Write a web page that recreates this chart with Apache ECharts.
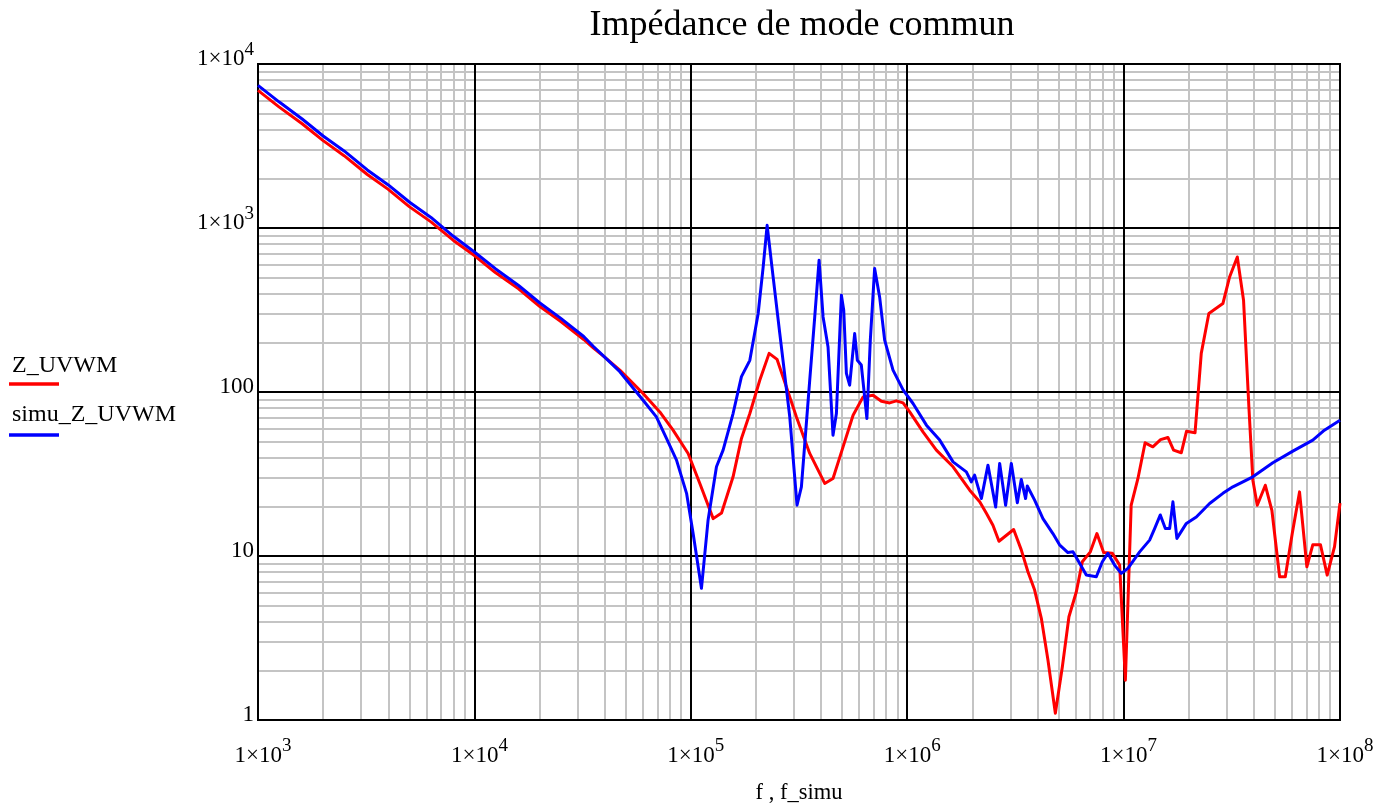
<!DOCTYPE html>
<html>
<head>
<meta charset="utf-8">
<title>Impédance de mode commun</title>
<script src="https://cdn.jsdelivr.net/npm/echarts@6/dist/echarts.min.js"></script>
<style>
  html, body { margin: 0; padding: 0; background: #ffffff; }
  #chart { width: 1378px; height: 810px; }
</style>
</head>
<body>
<div id="chart"></div>
<script>
// Measured common-mode impedance Z_UVWM (Ohm) versus frequency f (Hz)
const freqMeas = [1000, 1250, 1600, 2000, 2500, 3200, 4000, 5000, 6300, 8000,
  10000, 12500, 16000, 20000, 25000, 32000, 35400, 40000, 47000, 60200,
  71900, 82800, 97200, 110100, 126900, 138700, 156800, 171400, 187400, 208300,
  230100, 250500, 276800, 307700, 354500, 415800, 454100, 505400, 562200, 625400,
  695700, 760000, 830000, 891000, 957000, 1027000, 1183000, 1364000, 1629000, 1945000,
  2163000, 2322000, 2490000, 2655000, 3104000, 3366000, 3613000, 3880000, 4167000, 4471000,
  4837000, 5212000, 5590000, 6049000, 6446000, 7020000, 7528000, 8088000, 8871000, 9589000,
  10190000, 10840000, 11650000, 12570000, 13650000, 14820000, 16020000, 17020000, 18470000, 19540000,
  21390000, 22850000, 24770000, 28760000, 30890000, 33530000, 35830000, 37930000, 39560000, 41460000,
  45180000, 48440000, 52600000, 55870000, 60160000, 65010000, 70290000, 74850000, 81250000, 87260000,
  94350000, 100000000];
const zMeas = [6900, 5480, 4320, 3410, 2760, 2120, 1720, 1350, 1090, 840,
  680, 535, 426, 333, 270, 209, 186, 163, 136, 97.9,
  75.6, 58.5, 42.2, 27.7, 16.9, 18.3, 30.4, 52.1, 73.9, 118,
  172, 158, 107, 70.5, 42.2, 27.7, 29.7, 46.3, 72.2, 93.4,
  95.6, 87.9, 85.8, 88.3, 85.8, 75.6, 57.1, 44.2, 35.0, 25.2,
  21.4, 18.2, 15.4, 12.3, 14.5, 10.9, 8.01, 6.20, 4.17, 2.32,
  1.10, 2.11, 4.26, 6.05, 9.22, 10.6, 13.7, 10.5, 10.4, 8.80,
  1.75, 20.4, 29.7, 49.0, 46.3, 51.2, 52.8, 44.2, 42.6, 57.7,
  56.5, 172, 301, 346, 503, 666, 363, 81.2, 29.0, 20.4,
  27.0, 19.0, 7.47, 7.47, 13.7, 24.6, 8.60, 11.7, 11.7, 7.65,
  11.4, 21];

// Simulated common-mode impedance simu_Z_UVWM (Ohm) versus frequency f_simu (Hz)
const freqSimu = [1000, 1250, 1600, 2000, 2500, 3200, 4000, 5000, 6300, 8000,
  10000, 12500, 16000, 20000, 25000, 32000, 35400, 40000, 47000, 60200,
  69330, 77200, 85900, 95600, 102500, 112000, 120200, 131400, 141000, 156800,
  171400, 187400, 204800, 216000, 225300, 240100, 257800, 286600, 309600, 324400,
  354500, 373900, 391600, 408600, 430700, 454100, 470800, 496500, 509000, 523600,
  542100, 571800, 588400, 613700, 651300, 675400, 707100, 745700, 786700, 859900,
  957000, 1064000, 1227000, 1413000, 1629000, 1876000, 1978000, 2049000, 2202000, 2362000,
  2563000, 2675000, 2850000, 3028000, 3228000, 3366000, 3524000, 3589000, 3880000, 4239000,
  4713000, 5058000, 5528000, 5835000, 6262000, 6725000, 7481000, 7975000, 8460000, 9085000,
  9755000, 10470000, 11860000, 13190000, 13910000, 14780000, 15590000, 16320000, 16900000, 17630000,
  19500000, 21680000, 24970000, 28760000, 31990000, 39560000, 48940000, 60560000, 74850000, 84720000,
  100000000];
const zSimu = [7410, 5880, 4620, 3640, 2950, 2260, 1830, 1440, 1160, 890,
  714, 565, 446, 350, 282, 218, 190, 163, 133, 89.1,
  70.5, 52.1, 38.4, 24.1, 13.7, 6.35, 16.6, 35.0, 44.2, 73.9,
  124, 156, 301, 579, 1038, 503, 227, 70.5, 20.4, 26.4,
  118, 287, 636, 287, 188, 54.5, 73.9, 389, 315, 130,
  110, 227, 156, 146, 68.9, 207, 566, 380, 207, 136,
  103, 85.1, 62.8, 50.9, 37.5, 32.6, 28.3, 31.1, 22.4, 35.8,
  19.9, 36.7, 20.4, 36.7, 21.1, 29.3, 22.4, 26.7, 21.9, 16.9,
  13.7, 11.7, 10.5, 10.6, 9.02, 7.65, 7.47, 9.22, 10.4, 8.80,
  7.83, 8.40, 10.6, 12.5, 14.7, 17.8, 14.7, 14.7, 21.4, 12.8,
  15.8, 17.3, 20.9, 24.1, 26.4, 30.4, 37.0, 43.6, 50.9, 58.5,
  67.3];

// Decade tick values of both logarithmic axes
const xDecades = [1e3, 1e4, 1e5, 1e6, 1e7, 1e8];
const yDecades = [1, 10, 100, 1e3, 1e4];

const seriesNames = ['Z_UVWM', 'simu_Z_UVWM'];
const seriesColors = ['#ff0000', '#0000ff'];
const titleText = 'Impédance de mode commun';
const xAxisTitle = 'f , f_simu';

const FONT = '"Liberation Serif", "Times New Roman", serif';

// Grid lines at 2..9 times each decade
function minorValues(decades) {
  const out = [];
  for (let i = 0; i < decades.length - 1; i++) {
    for (let k = 2; k <= 9; k++) out.push(decades[i] * k);
  }
  return out;
}

// "1×10" with a raised exponent; p pads the left so the mantissa sits centred on the tick
const labelRich = {
  p: { width: 10, fontSize: 23, lineHeight: 30 },
  b: { fontFamily: FONT, fontSize: 23, color: '#000', lineHeight: 30, verticalAlign: 'bottom' },
  e: { fontFamily: FONT, fontSize: 19, color: '#000', lineHeight: 19, verticalAlign: 'top' }
};

function decadeLabel(v, plainBelow, pad) {
  const e = Math.round(Math.log10(v));
  if (e <= plainBelow) return '{b|' + String(Math.round(v)) + '}';
  return (pad ? '{p|}' : '') + '{b|1×10}{e|' + e + '}';
}

function gridLineSeries(xs, ys, color, z) {
  return {
    type: 'line',
    data: [],
    silent: true,
    z: z,
    markLine: {
      silent: true,
      animation: false,
      symbol: ['none', 'none'],
      label: { show: false },
      emphasis: { disabled: true },
      lineStyle: { color: color, width: 2, type: 'solid' },
      data: xs.map(v => ({ xAxis: v })).concat(ys.map(v => ({ yAxis: v })))
    }
  };
}

function curveSeries(name, xs, ys, color, z) {
  return {
    name: name,
    type: 'line',
    data: xs.map((f, i) => [f, ys[i]]),
    symbol: 'none',
    showSymbol: false,
    clip: true,
    z: z,
    lineStyle: { color: color, width: 3, join: 'round' },
    itemStyle: { color: color },
    emphasis: { disabled: true }
  };
}

const chart = echarts.init(document.getElementById('chart'), null, { renderer: 'canvas' });

const option = {
  animation: false,
  backgroundColor: '#ffffff',
  title: {
    text: titleText,
    left: 797,
    top: 3,
    textAlign: 'center',
    textStyle: { fontFamily: FONT, fontSize: 36, fontWeight: 'normal', color: '#000' }
  },
  grid: {
    left: 258, right: 38, top: 64, bottom: 90,
    show: true, borderColor: '#000', borderWidth: 2, backgroundColor: 'transparent'
  },
  xAxis: {
    type: 'log', logBase: 10, min: 1e3, max: 1e8, splitNumber: 5,
    axisLine: { show: false }, axisTick: { show: false }, splitLine: { show: false },
    axisLabel: {
      margin: 17,
      formatter: v => decadeLabel(v, -1, true),
      rich: labelRich
    },
    name: xAxisTitle,
    nameLocation: 'middle',
    nameGap: 62,
    nameTextStyle: { fontFamily: FONT, fontSize: 22.5, color: '#000' }
  },
  yAxis: {
    type: 'log', logBase: 10, min: 1, max: 1e4, splitNumber: 4,
    axisLine: { show: false }, axisTick: { show: false }, splitLine: { show: false },
    axisLabel: {
      margin: 4,
      padding: [0, 0, 17, 0],
      formatter: v => decadeLabel(v, 2, false),
      rich: labelRich
    }
  },
  graphic: [
    { type: 'text', left: 12, top: 354, style: { text: seriesNames[0], font: '24px ' + FONT, fill: '#000' } },
    { type: 'line', shape: { x1: 9, y1: 384, x2: 59, y2: 384 }, style: { stroke: seriesColors[0], lineWidth: 3.5 } },
    { type: 'text', left: 12, top: 403, style: { text: seriesNames[1], font: '24px ' + FONT, fill: '#000' } },
    { type: 'line', shape: { x1: 9, y1: 435, x2: 59, y2: 435 }, style: { stroke: seriesColors[1], lineWidth: 3.5 } }
  ],
  series: [
    gridLineSeries(minorValues(xDecades), minorValues(yDecades), '#c4c4c4', 1),
    gridLineSeries(xDecades, yDecades, '#000000', 2),
    curveSeries(seriesNames[0], freqMeas, zMeas, seriesColors[0], 5),
    curveSeries(seriesNames[1], freqSimu, zSimu, seriesColors[1], 6)
  ]
};

chart.setOption(option);
</script>
</body>
</html>
